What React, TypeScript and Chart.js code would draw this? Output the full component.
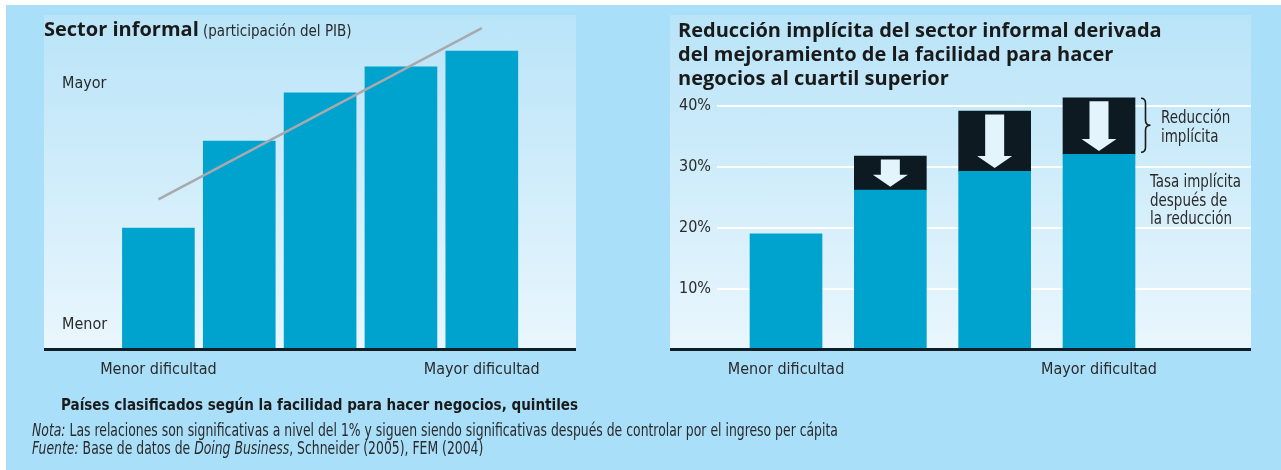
import React, { useEffect, useRef } from 'react';
import { Chart, registerables } from 'chart.js';

Chart.register(...registerables);

// ---------- data ----------
const quintiles = [1, 2, 3, 4, 5];
const informalShare = [36.3, 62.3, 76.7, 84.5, 89.2];
const trendX = [1, 5];
const trendY = [44.9, 96.1];
const leftXTicks = [1, 5];
const leftXLabels = ['Menor dificultad', 'Mayor dificultad'];
const leftYTicks = [7.5, 79.3];
const leftYLabels = ['Menor', 'Mayor'];

const rightGroups = [1, 2, 3, 4];
const rateAfterReduction = [19.0, 26.2, 29.3, 32.1];
const implicitReduction = [null, 5.6, 9.9, 9.3];
const rightXTicks = [1, 4];
const rightXLabels = ['Menor dificultad', 'Mayor dificultad'];
const rightYTicks = [10, 20, 30, 40];

// ---------- styles ----------
const NARROW = "'DejaVu Sans Condensed', 'Liberation Sans Narrow', sans-serif";
const BOLD = "'Open Sans', 'Noto Sans', sans-serif";
const BLUE = '#00a3ce';
const DARK_BAR = '#0d1a22';
const AXIS_DARK = '#0f1e27';
const ARROW = '#e3f4fc';
const TEXT = '#2a2a2a';

const noPad = (s: any) => {
  s.paddingTop = 0;
  s.paddingBottom = 0;
  s.paddingLeft = 0;
  s.paddingRight = 0;
};

const reductionMarks = {
  id: 'reductionMarks',
  afterDatasetsDraw(chart: any) {
    const meta = chart.getDatasetMeta(1);
    const ctx = chart.ctx;
    ctx.save();
    meta.data.forEach((bar: any, i: number) => {
      if (implicitReduction[i] == null) return;
      const { x, y, base } = bar.getProps(['x', 'y', 'base'], true);
      const top = y + 3.5;
      const tip = base - 3.3;
      const headH = 12;
      const headW = 35;
      const shaftW = 19;
      ctx.beginPath();
      ctx.moveTo(x - shaftW / 2, top);
      ctx.lineTo(x + shaftW / 2, top);
      ctx.lineTo(x + shaftW / 2, tip - headH);
      ctx.lineTo(x + headW / 2, tip - headH);
      ctx.lineTo(x, tip);
      ctx.lineTo(x - headW / 2, tip - headH);
      ctx.lineTo(x - shaftW / 2, tip - headH);
      ctx.closePath();
      ctx.fillStyle = ARROW;
      ctx.fill();
    });
    const last = meta.data[meta.data.length - 1];
    if (last) {
      const { x, y, base, width } = last.getProps(['x', 'y', 'base', 'width'], true);
      const x0 = x + width / 2 + 6;
      const x1 = x0 + 4.5;
      const xm = x0 + 9.5;
      const top = y + 0.5;
      const bottom = base - 2;
      const mid = (top + bottom) / 2;
      ctx.beginPath();
      ctx.moveTo(x0, top);
      ctx.quadraticCurveTo(x1, top, x1, top + 5);
      ctx.lineTo(x1, mid - 5);
      ctx.quadraticCurveTo(x1, mid, xm, mid);
      ctx.quadraticCurveTo(x1, mid, x1, mid + 5);
      ctx.lineTo(x1, bottom - 5);
      ctx.quadraticCurveTo(x1, bottom, x0, bottom);
      ctx.strokeStyle = '#1b1b1b';
      ctx.lineWidth = 1.6;
      ctx.stroke();
    }
    ctx.restore();
  },
};

function LeftChart() {
  const ref = useRef<HTMLCanvasElement>(null);
  useEffect(() => {
    if (!ref.current) return;
    const font = { family: NARROW, size: 16 };
    const chart = new Chart(ref.current, {
      type: 'bar',
      data: {
        datasets: [
          {
            type: 'line',
            data: trendX.map((x, i) => ({ x, y: trendY[i] })),
            borderColor: '#a7a9ac',
            borderWidth: 2.5,
            pointRadius: 0,
            tension: 0,
            order: 0,
          } as any,
          {
            type: 'bar',
            data: quintiles.map((x, i) => ({ x, y: informalShare[i] })),
            backgroundColor: BLUE,
            barThickness: 72,
            borderWidth: 0,
            order: 1,
          } as any,
        ],
      },
      options: {
        animation: false,
        responsive: false,
        events: [],
        layout: { padding: 0, autoPadding: false },
        plugins: { legend: { display: false }, tooltip: { enabled: false } },
        scales: {
          x: {
            type: 'linear',
            min: -0.415,
            max: 6.165,
            offset: false,
            grid: { display: false, drawTicks: false },
            border: { display: true, color: AXIS_DARK, width: 3, z: 1 },
            afterFit: (s: any) => { s.height = 50.5; noPad(s); },
            afterBuildTicks: (s: any) => { s.ticks = leftXTicks.map((v) => ({ value: v })); },
            ticks: {
              callback: (_v: any, i: number) => leftXLabels[i],
              font,
              color: TEXT,
              padding: 10.4,
              maxRotation: 0,
              autoSkip: false,
            },
          },
          y: {
            min: 0,
            max: 100,
            grid: { display: false, drawTicks: false },
            border: { display: false },
            afterFit: (s: any) => { s.width = 0; noPad(s); },
            afterBuildTicks: (s: any) => { s.ticks = leftYTicks.map((v) => ({ value: v })); },
            ticks: {
              mirror: true,
              padding: 18,
              callback: (_v: any, i: number) => leftYLabels[i],
              font,
              color: TEXT,
            },
          },
        },
      } as any,
    });
    return () => chart.destroy();
  }, []);
  return <canvas ref={ref} width={532} height={385} style={{ position: 'absolute', left: 44, top: 15 }} />;
}

function RightChart() {
  const ref = useRef<HTMLCanvasElement>(null);
  useEffect(() => {
    if (!ref.current) return;
    const font = { family: NARROW, size: 16 };
    const chart = new Chart(ref.current, {
      type: 'bar',
      data: {
        datasets: [
          {
            label: 'Tasa implícita después de la reducción',
            data: rightGroups.map((x, i) => ({ x, y: rateAfterReduction[i] })),
            backgroundColor: BLUE,
            barThickness: 72,
            borderWidth: 0,
            stack: 's',
          } as any,
          {
            label: 'Reducción implícita',
            data: rightGroups.map((x, i) => ({ x, y: implicitReduction[i] })),
            backgroundColor: DARK_BAR,
            barThickness: 72,
            borderWidth: 0,
            stack: 's',
          } as any,
        ],
      },
      options: {
        animation: false,
        responsive: false,
        events: [],
        layout: { padding: 0, autoPadding: false },
        plugins: { legend: { display: false }, tooltip: { enabled: false } },
        scales: {
          x: {
            type: 'linear',
            min: 0.3386,
            max: 5.457,
            offset: false,
            grid: { display: false, drawTicks: false },
            border: { display: true, color: AXIS_DARK, width: 3, z: 1 },
            afterFit: (s: any) => { s.height = 50.5; noPad(s); },
            afterBuildTicks: (s: any) => { s.ticks = rightXTicks.map((v) => ({ value: v })); },
            ticks: {
              callback: (_v: any, i: number) => rightXLabels[i],
              font,
              color: TEXT,
              padding: 10.4,
              maxRotation: 0,
              autoSkip: false,
            },
          },
          y: {
            stacked: true,
            min: 0,
            max: 55,
            grid: { color: '#ffffff', lineWidth: 2, drawTicks: false },
            border: { display: false },
            afterFit: (s: any) => { s.width = 47; noPad(s); },
            afterBuildTicks: (s: any) => { s.ticks = rightYTicks.map((v) => ({ value: v })); },
            ticks: {
              padding: 6,
              callback: (v: any) => `${v}%`,
              font,
              color: TEXT,
            },
          },
        },
      } as any,
      plugins: [reductionMarks],
    });
    return () => chart.destroy();
  }, []);
  return <canvas ref={ref} width={581} height={385} style={{ position: 'absolute', left: 670, top: 15 }} />;
}

const panel = (left: number, width: number): React.CSSProperties => ({
  position: 'absolute',
  left,
  top: 15,
  width,
  height: 333,
  background: 'linear-gradient(#b9e4f8, #e9f6fd)',
  borderBottom: `3px solid ${AXIS_DARK}`,
});

const narrowText = (left: number, top: number, size: number, lineHeight: number, squeeze: number, extra: React.CSSProperties = {}): React.CSSProperties => ({
  position: 'absolute',
  left,
  top,
  fontFamily: NARROW,
  fontSize: size,
  lineHeight: `${lineHeight}px`,
  color: TEXT,
  whiteSpace: 'nowrap',
  transform: `scaleX(${squeeze})`,
  transformOrigin: 'left top',
  ...extra,
});

export default function App() {
  return (
    <div style={{ position: 'absolute', left: 0, top: 0, width: 1281, height: 470, background: '#ffffff', overflow: 'hidden' }}>
      <div style={{ position: 'absolute', left: 6, top: 5, width: 1275, height: 465, background: '#aadff9' }} />
      <div style={panel(44, 532)} />
      <div style={panel(670, 581)} />
      <LeftChart />
      <RightChart />
      <div style={{ position: 'absolute', left: 44, top: 17, lineHeight: '24px', whiteSpace: 'nowrap', color: '#1a1a1a' }}>
        <span style={{ fontFamily: BOLD, fontWeight: 700, fontSize: 20 }}>Sector informal</span>
        <span style={{ fontFamily: NARROW, fontSize: 15, color: '#2a2a2a' }}> (participación del PIB)</span>
      </div>
      <div style={{ position: 'absolute', left: 678, top: 17.8, lineHeight: '24px', whiteSpace: 'nowrap', color: '#1a1a1a', fontFamily: BOLD, fontWeight: 700, fontSize: 20 }}>
        Reducción implícita del sector informal derivada<br />
        del mejoramiento de la facilidad para hacer<br />
        negocios al cuartil superior
      </div>
      <div style={narrowText(1161, 108.2, 17, 18.5, 0.88)}>
        Reducción<br />implícita
      </div>
      <div style={narrowText(1150, 172.2, 17, 18.5, 0.88)}>
        Tasa implícita<br />después de<br />la reducción
      </div>
      <div style={narrowText(61, 394.5, 16, 20, 0.94, { fontWeight: 700, color: '#1a1a1a' })}>
        Países clasificados según la facilidad para hacer negocios, quintiles
      </div>
      <div style={narrowText(32, 420.5, 17, 18.6, 0.812)}>
        <i>Nota:</i> Las relaciones son significativas a nivel del 1% y siguen siendo significativas después de controlar por el ingreso per cápita<br />
        <i>Fuente:</i> Base de datos de <i>Doing Business</i>, Schneider (2005), FEM (2004)
      </div>
    </div>
  );
}
